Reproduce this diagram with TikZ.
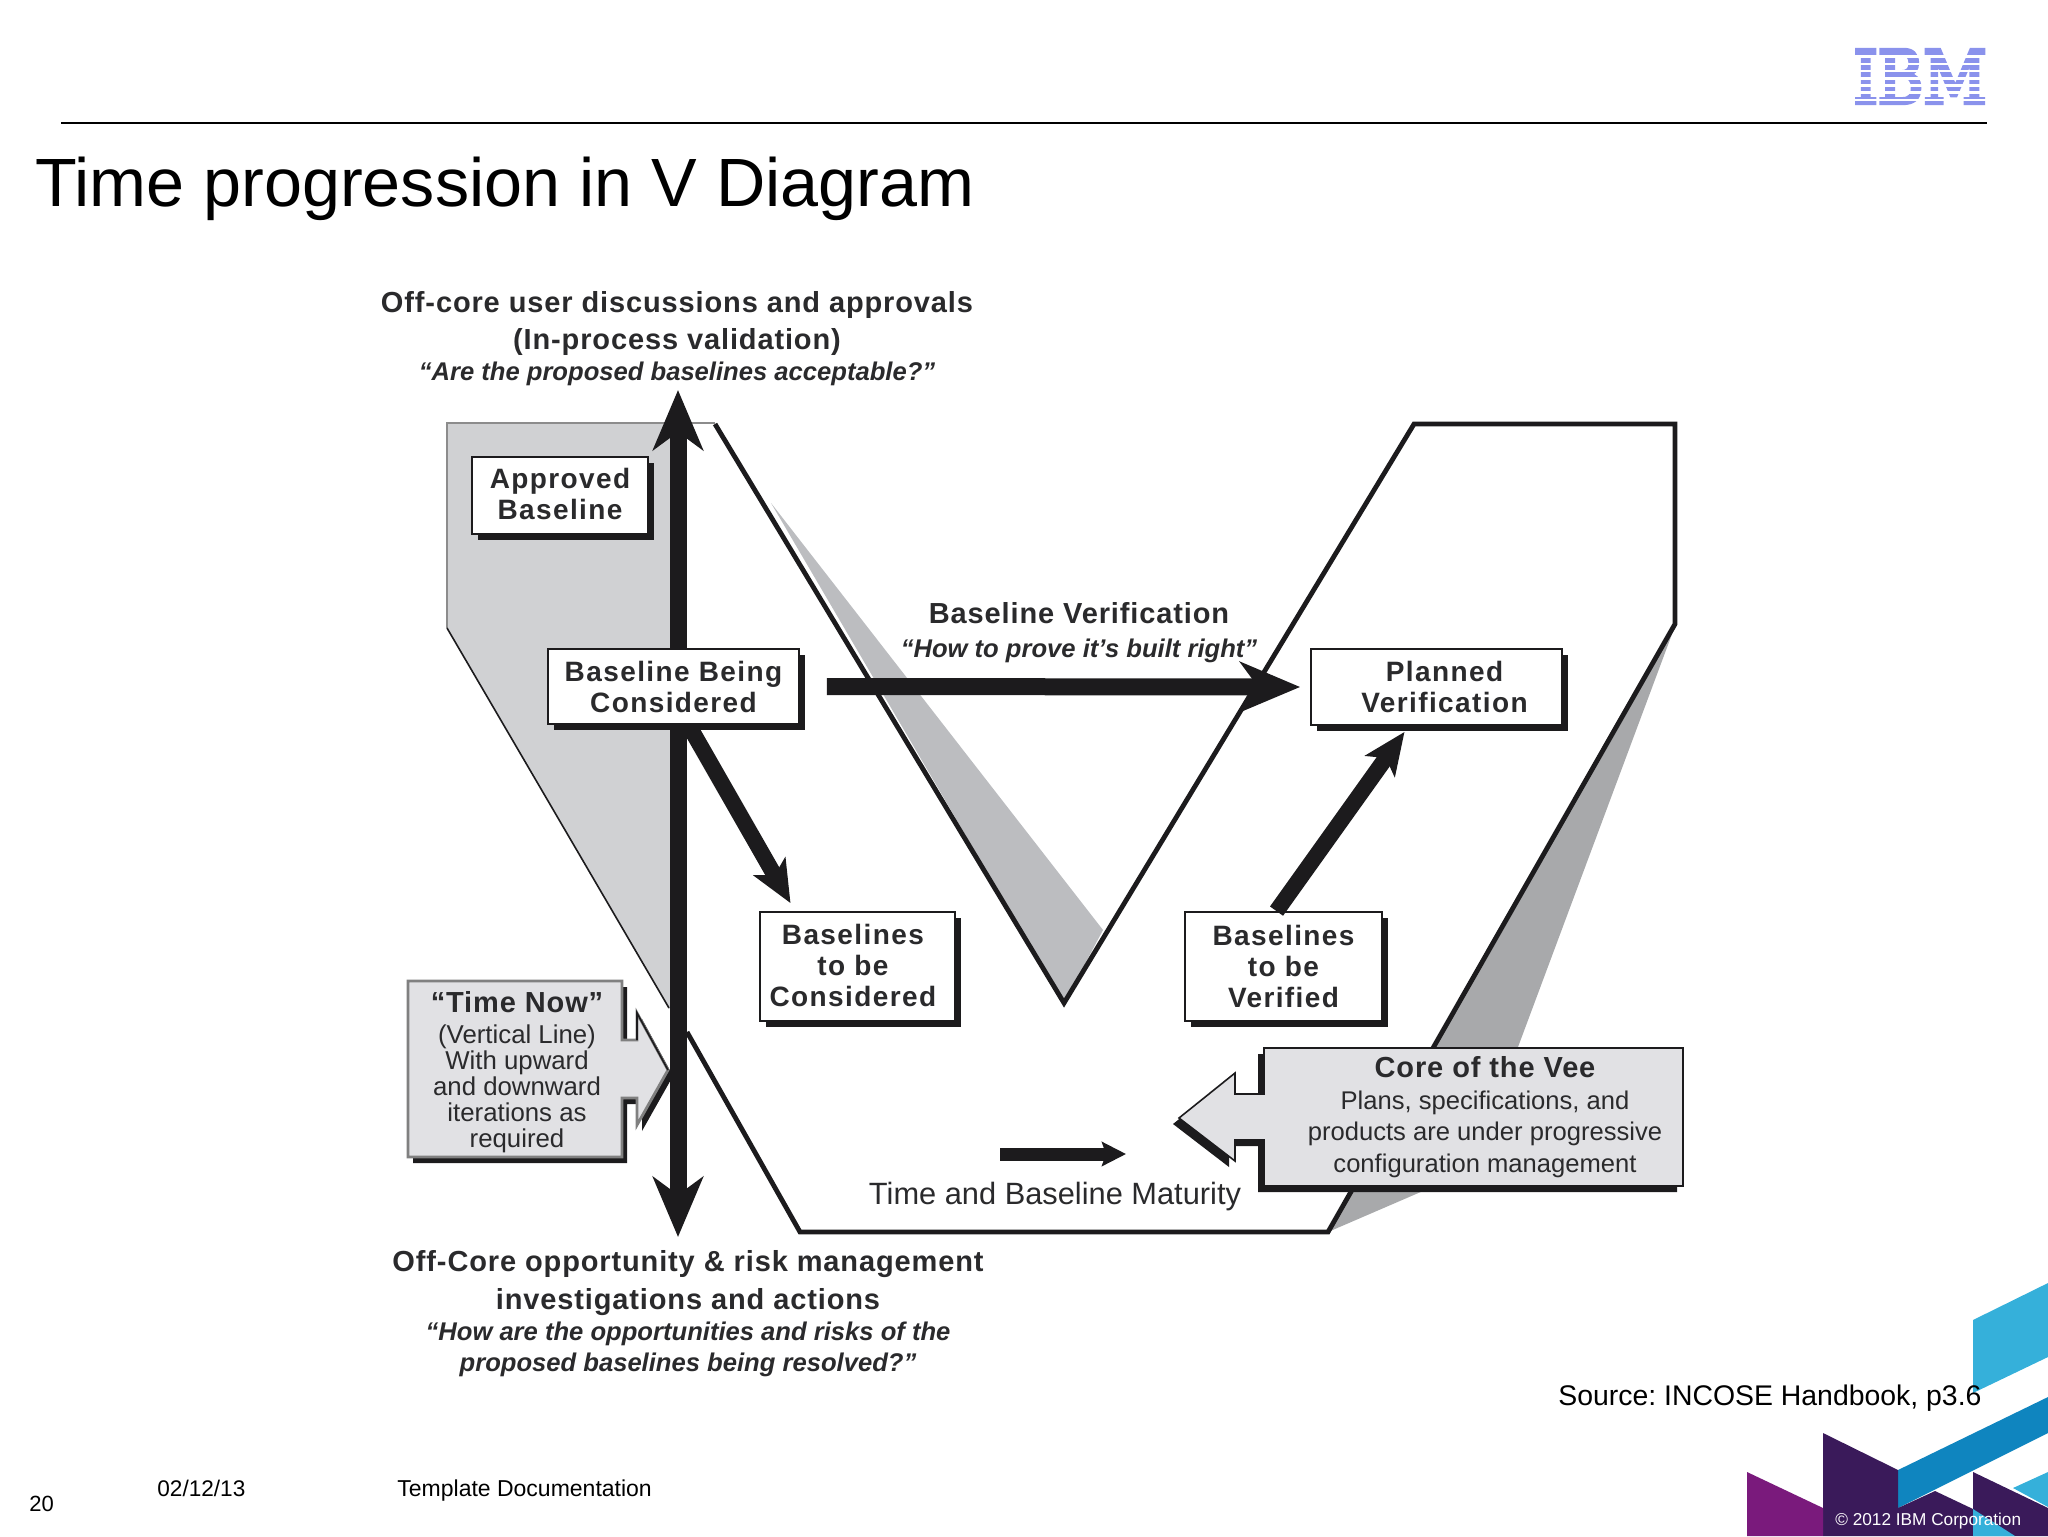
\documentclass[tikz,border=0pt]{standalone}
\usepackage{fontspec}
\setmainfont{Liberation Sans}
\usetikzlibrary{arrows.meta,shadows}
\newcommand{\fs}[2]{\fontsize{#1}{#2}\selectfont}
\newcommand{\widebf}[1]{{\bfseries\fs{14.5}{18}\addfontfeatures{LetterSpace=3}#1}}
\newcommand{\ask}[1]{{\bfseries\itshape\fs{12.8}{15.5}#1}}
\newcommand{\upline}[1]{\raisebox{1.3pt}{#1}}
\definecolor{inktext}{HTML}{2A2A2C}
\definecolor{inkline}{HTML}{1C1B1D}
\definecolor{leftgray}{HTML}{D0D1D3}
\definecolor{midgray}{HTML}{BCBDC0}
\definecolor{rightgray}{HTML}{A8A9AB}
\definecolor{calloutgray}{HTML}{E1E1E4}
\definecolor{ibmblue}{HTML}{8A92EC}
\definecolor{cyanblue}{HTML}{35B0DA}
\definecolor{seablue}{HTML}{0F85BF}
\definecolor{darkplum}{HTML}{3A1A5A}
\definecolor{brightplum}{HTML}{7A1A7C}
\tikzset{
  basebox/.style 2 args={draw=inkline,fill=white,line width=.9pt,align=center,text=inktext,inner sep=0pt,
    minimum width=#1pt,minimum height=#2pt,font=\fs{14}{15.5}\bfseries\addfontfeatures{LetterSpace=5},
    general shadow={fill=inkline,shadow xshift=2.8pt,shadow yshift=-2.8pt}},
  bigarrow/.style={draw=inkline,line width=8.5pt,-{Stealth[length=30pt,width=25pt,inset=9pt]}},
  twoway/.style={draw=inkline,line width=8.5pt,{Stealth[length=30pt,width=25pt,inset=9pt]}-{Stealth[length=30pt,width=25pt,inset=9pt]}},
  midarrow/.style={draw=inkline,line width=8pt,-{Stealth[length=21pt,width=18pt,inset=5pt]}},
  veeline/.style={draw=inkline,line width=2.4pt,line join=miter},
  callout/.style={fill=calloutgray,draw=inkline,line width=.8pt,line join=miter},
  note/.style={align=center,text=inktext,inner sep=0pt},
  slide/.style={anchor=base west,inner sep=0pt,text=black}
}
\begin{document}
\begin{tikzpicture}[x=.5pt,y=-.5pt]
  \useasboundingbox (0,0) rectangle (2048,1536);

  % header
  \draw[color=black,line width=1.2pt] (61,123) -- (1987,123);
  \node[slide,font=\fs{34.15}{40}] (title) at (35,206) {Time progression in V Diagram};
  \node[inner sep=0pt,text=ibmblue] (logo) at (1920,76.5)
    {\resizebox{66.5pt}{26.5pt}{\fontspec[FakeBold=6]{DejaVu Serif}IBM}};
  \foreach \y in {55.5,62.7,69.9,77.1,84.3,91.5,98.7}
    \fill[white] (1845,\y) rectangle (1995,\y+2.6);

  % gray shadows of the vee
  \fill[leftgray] (447,423) -- (678,423) -- (678,1020) -- (669,1008) -- (447,628) -- cycle;
  \fill[midgray] (771,503) -- (1103,930) -- (1064,1003) -- cycle;
  \fill[rightgray] (1675,626) -- (1518,1047) -- (1423,1191) -- (1328,1232) -- cycle;

  % the vee
  \draw[color=gray!90!white,line width=1.4pt] (447,628) -- (447,423) -- (715,423);
  \draw[color=inkline,line width=.8pt] (447,628) -- (669,1008);
  \draw[veeline] (687,1032) -- (800,1232) -- (1328,1232) -- (1675,624) -- (1675,424)
    -- (1414,424) -- (1064,1003) -- (715,424);

  % boxes
  \node[basebox={88}{38.5}] (approved) at (560,495.5) {\upline{Approved}\\\upline{Baseline}};
  \node[basebox={97.5}{54.5}] (tobeconsidered) at (857.5,966.5)
    {\hspace*{-4.6pt}\upline{Baselines}\\\hspace*{-4.6pt}\upline{to be}\\\hspace*{-4.6pt}\upline{Considered}};
  \node[basebox={125.5}{38}] (planned) at (1436.5,687) {\hspace*{8pt}Planned\\\hspace*{8pt}Verification};
  \node[basebox={98.5}{54.5}] (tobeverified) at (1283.5,966.5) {Baselines\\to be\\Verified};

  % arrows
  \coordinate (iterup) at (678,390);
  \coordinate (iterdown) at (678,1237);
  \coordinate (consideredout) at (680,710);
  \coordinate (maturitystart) at (1000,1154);
  \coordinate (maturityend) at (1126,1154);
  \draw[twoway] (iterup) -- (iterdown);
  \draw[midarrow] (consideredout) -- ([xshift=-33.5pt,yshift=4pt]tobeconsidered.north);
  \node[basebox={125.5}{37.5}] (considered) at (673.5,686.5) {Baseline Being\\Considered};
  \draw[bigarrow,shorten <=13.5pt,shorten >=5pt] (considered.east) -- (planned.west);
  \draw[midarrow] ([xshift=-3.5pt]tobeverified.north) -- ([xshift=-16pt,yshift=-3pt]planned.south);
  \draw[draw=inkline,line width=6.5pt,-{Stealth[length=12pt,width=12pt,inset=2pt]}] (maturitystart) -- (maturityend);

  % callouts
  \fill[inkline,shift={(5,6)}] (408,981) -- (622,981) -- (622,1040) -- (637,1040) -- (637,1013) -- (668,1070)
    -- (637,1125) -- (637,1098) -- (622,1098) -- (622,1157) -- (408,1157) -- cycle;
  \draw[callout,draw=gray,line width=1.4pt] (408,981) -- (622,981) -- (622,1040) -- (637,1040) -- (637,1013) -- (668,1070)
    -- (637,1125) -- (637,1098) -- (622,1098) -- (622,1157) -- (408,1157) -- cycle;
  \draw[color=inkline,line width=.8pt] (637,1040) -- (637,1013) -- (668,1070);
  \fill[inkline,shift={(-6,6)}] (1264,1048) -- (1683,1048) -- (1683,1186) -- (1264,1186) -- (1264,1140) -- (1235,1140)
    -- (1235,1161) -- (1179,1118) -- (1235,1073) -- (1235,1094) -- (1264,1094) -- cycle;
  \draw[callout] (1264,1048) -- (1683,1048) -- (1683,1186) -- (1264,1186) -- (1264,1140) -- (1235,1140)
    -- (1235,1161) -- (1179,1118) -- (1235,1073) -- (1235,1094) -- (1264,1094) -- cycle;

  % texts
  \node[note,font=\fs{12.9}{13}] (timenow) at (517,1072) {\widebf{``Time Now''}\\[2.5pt]
    (Vertical Line)\\With upward\\and downward\\iterations as\\required};
  \node[note,font=\fs{12.8}{15.8}] (core) at (1485,1117) {\widebf{Core of the Vee}\\
    Plans, specifications, and\\products are under progressive\\configuration management};
  \node[note,font=\fs{12.8}{15.7}] (topnote) at (677,339) {\widebf{Off-core user discussions and approvals}\\[2.6pt]
    \widebf{(In-process validation)}\\
    \ask{``Are the proposed baselines acceptable?''}};
  \node[note,font=\fs{12.8}{15.5}] (bottomnote) at (688,1313.5) {\widebf{Off-Core opportunity \& risk management}\\[3.5pt]
    \widebf{investigations and actions}\\
    \ask{``How are the opportunities and risks of the}\\
    \ask{proposed baselines being resolved?''}};
  \node[note,font=\fs{12.8}{17}] (verification) at (1079,633) {\widebf{Baseline Verification}\\
    \ask{``How to prove it's built right''}};
  \node[note,font=\fs{15.4}{18}] (maturity) at (1055,1197) {Time and Baseline Maturity};

  % footer art
  \fill[cyanblue] (1973,1320) -- (2048,1283) -- (2048,1357) -- (1973,1393) -- cycle;
  \fill[seablue] (1898,1470) -- (2048,1397) -- (2048,1433) -- (1898,1508) -- cycle;
  \fill[darkplum] (1823,1433) -- (1898,1470) -- (1898,1508) -- (1935,1491) -- (1973,1509) -- (1973,1536) -- (1823,1536) -- cycle;
  \fill[brightplum] (1747,1472) -- (1823,1508) -- (1823,1536) -- (1747,1536) -- cycle;
  \fill[darkplum] (1973,1472) -- (2048,1508) -- (2048,1536) -- (1973,1536) -- cycle;
  \fill[cyanblue] (2013,1488) -- (2048,1472) -- (2048,1507) -- cycle;
  \fill[cyanblue] (1973,1509) -- (2015,1536) -- (1973,1536) -- cycle;

  % footer
  \node[slide,font=\fs{14.2}{18}] (source) at (1558,1405) {Source:\ INCOSE Handbook, p3.6};
  \node[slide,font=\fs{11}{13}] (pageno) at (29,1511) {20};
  \node[slide,font=\fs{11.3}{13}] (date) at (157,1496) {02/12/13};
  \node[slide,font=\fs{11.5}{13}] (doc) at (397,1496) {Template Documentation};
  \node[slide,font=\fs{8.6}{11},text=white] (copyright) at (1835,1525) {\textcopyright{} 2012 IBM Corporation};
\end{tikzpicture}
\end{document}
